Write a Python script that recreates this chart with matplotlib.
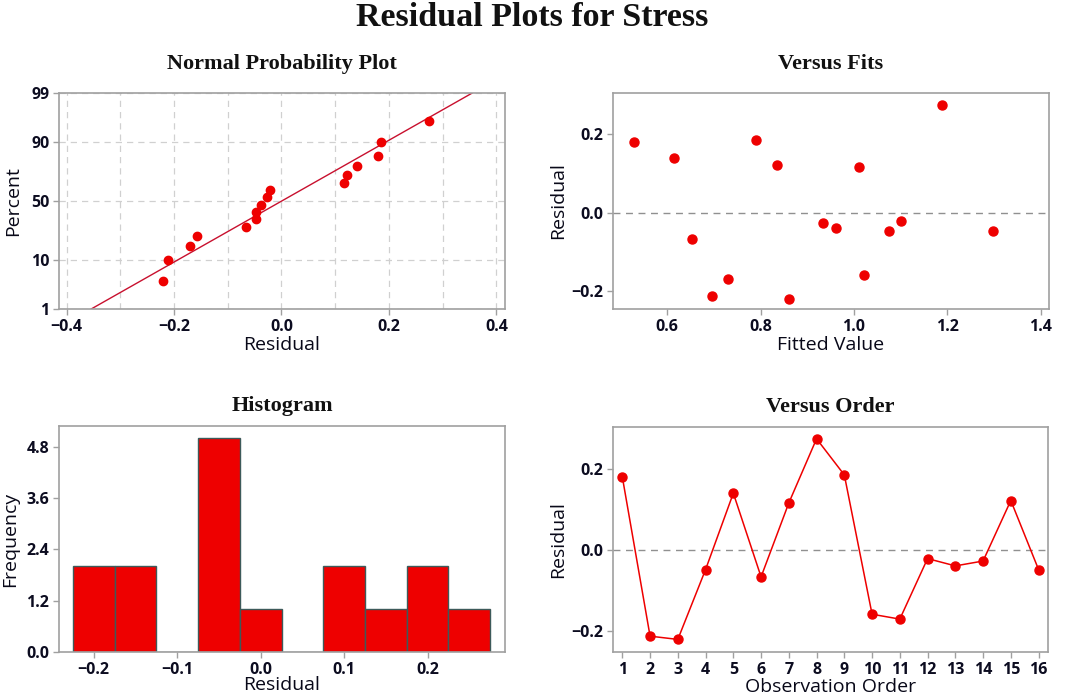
import matplotlib
matplotlib.use('Agg')
import matplotlib.pyplot as plt
import numpy as np
from statistics import NormalDist

# residuals in observation order, and the fitted values that go with them
residuals = [0.180, -0.212, -0.220, -0.048, 0.140, -0.066, 0.116, 0.274,
             0.185, -0.158, -0.170, -0.021, -0.039, -0.027, 0.122, -0.048]
fitted = [0.530, 0.696, 0.861, 1.076, 0.615, 0.653, 1.012, 1.189,
          0.790, 1.021, 0.730, 1.100, 0.962, 0.934, 0.835, 1.298]
order = list(range(1, 17))

bin_edges = [-0.225, -0.175, -0.125, -0.075, -0.025, 0.025, 0.075, 0.125, 0.175, 0.225, 0.275]
pct_ticks = [1, 10, 50, 90, 99]

RED = '#ee0000'
LINE_RED = '#c8102e'
SPINE = '#a0a0a0'
TXT = '#0c0c20'
SANS = ['Open Sans', 'DejaVu Sans']
SERIF = ['Liberation Serif', 'DejaVu Serif']

plt.rcParams['font.family'] = SANS

W, H = 1065, 697
fig = plt.figure(figsize=(W / 100, H / 100), dpi=100)


def box(l, t, r, b):
    return [l / W, 1 - b / H, (r - l) / W, (b - t) / H]


def style(ax):
    for s in ax.spines.values():
        s.set_color(SPINE)
        s.set_linewidth(1.2)
    ax.tick_params(length=4, width=1, color=SPINE, labelsize=11.5, labelcolor=TXT, pad=3)
    for lab in ax.get_xticklabels() + ax.get_yticklabels():
        lab.set_fontweight('bold')


def labels(ax, xl, yl, xy, yx, title, tpad):
    ax.set_xlabel(xl, fontsize=14, color='#080818')
    ax.set_ylabel(yl, fontsize=14, color='#080818')
    ax.xaxis.set_label_coords(0.5, xy)
    ax.yaxis.set_label_coords(yx, 0.5)
    ax.xaxis.label.set_va('center')
    ax.yaxis.label.set_va('center')
    ax.set_title(title, family=SERIF, fontweight='bold', fontsize=16, color='#111111', pad=tpad)


fig.text(0.5, 1 - 17 / H, 'Residual Plots for Stress', family=SERIF, fontweight='bold',
         fontsize=24.5, ha='center', va='center', color='#111111')

# Normal probability plot
ax = fig.add_axes(box(59, 93, 505, 309))
nd = NormalDist()
n = len(residuals)
srt = np.sort(residuals)
z = [nd.inv_cdf((i + 1 - 0.3) / (n + 0.4)) for i in range(n)]
mu = np.mean(residuals)
sd = np.std(residuals, ddof=1)
zl = np.array([nd.inv_cdf(0.01), nd.inv_cdf(0.99)])
ax.plot(mu + sd * zl, zl, color=LINE_RED, lw=1, zorder=2)
ax.plot(srt, z, 'o', color=RED, ms=6, zorder=3)
ax.set_xlim(-0.414, 0.416)
ax.set_ylim(zl[0], zl[1])
ax.set_xticks([-0.4, -0.2, 0.0, 0.2, 0.4])
ax.set_xticks(np.arange(-0.3, 0.31, 0.2), minor=True)
ax.tick_params(axis='x', which='minor', length=0)
ax.set_yticks([nd.inv_cdf(p / 100) for p in pct_ticks])
ax.set_yticklabels([str(p) for p in pct_ticks])
ax.grid(True, which='both', ls=(0, (5, 4)), color='#d0d0d0', lw=0.9)
ax.set_axisbelow(True)
style(ax)
labels(ax, 'Residual', 'Percent', -0.167, -0.103, 'Normal Probability Plot', 17)

# Versus fits
ax = fig.add_axes(box(613, 93, 1049, 309))
ax.axhline(0, color='#909090', ls=(0, (5, 4)), lw=1, zorder=1)
ax.plot(fitted, residuals, 'o', color=RED, ms=6.5, zorder=3)
ax.set_xlim(0.484, 1.418)
ax.set_ylim(-0.245, 0.304)
ax.set_xticks([0.6, 0.8, 1.0, 1.2, 1.4])
ax.set_yticks([-0.2, 0.0, 0.2])
style(ax)
labels(ax, 'Fitted Value', 'Residual', -0.167, -0.126, 'Versus Fits', 17)

# Histogram
ax = fig.add_axes(box(59, 426, 505, 652))
ax.hist(residuals, bins=bin_edges, color=RED, edgecolor='#3d5a5a', linewidth=1)
ax.set_xlim(-0.2416, 0.2927)
ax.set_ylim(0, 5.28)
ax.set_xticks([-0.2, -0.1, 0.0, 0.1, 0.2])
ax.set_yticks([0.0, 1.2, 2.4, 3.6, 4.8])
style(ax)
labels(ax, 'Residual', 'Frequency', -0.146, -0.11, 'Histogram', 11)

# Versus order
ax = fig.add_axes(box(613, 427, 1048, 652))
ax.axhline(0, color='#909090', ls=(0, (5, 4)), lw=1, zorder=1)
ax.plot(order, residuals, '-o', color=RED, lw=1.1, ms=6.5, zorder=3)
ax.set_xlim(0.664, 16.34)
ax.set_ylim(-0.251, 0.303)
ax.set_xticks(order)
ax.set_yticks([-0.2, 0.0, 0.2])
style(ax)
labels(ax, 'Observation Order', 'Residual', -0.155, -0.126, 'Versus Order', 11)

fig.savefig('out.png', dpi=100)
